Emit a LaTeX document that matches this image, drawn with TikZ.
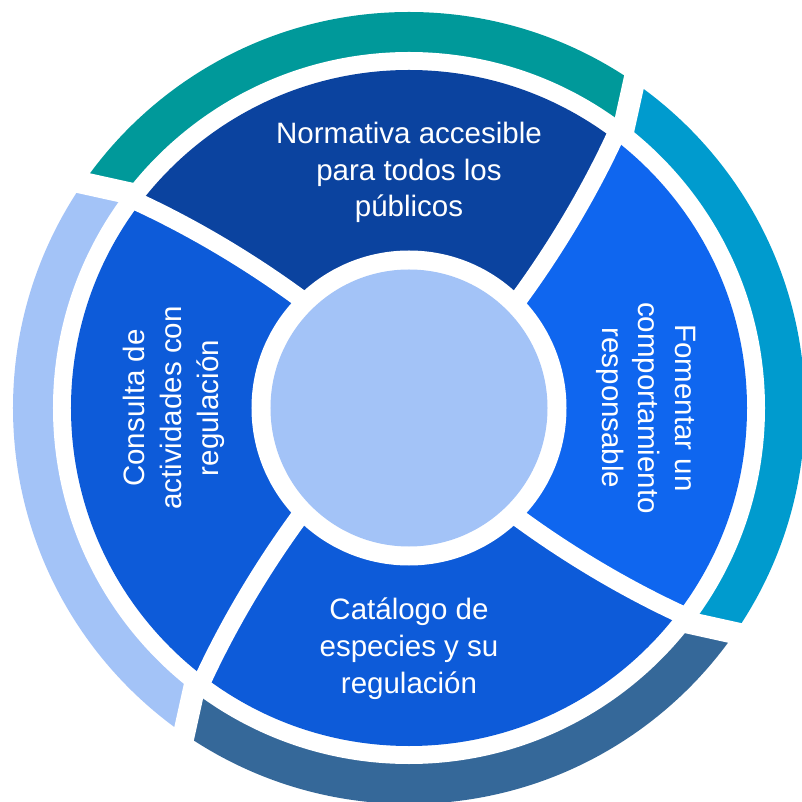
\documentclass[tikz,border=0pt]{standalone}
\usepackage{fontspec}
\setmainfont{Liberation Sans}
\definecolor{topc}{HTML}{0B439F}
\definecolor{rightc}{HTML}{0F66EF}
\definecolor{botc}{HTML}{0D5BD9}
\definecolor{leftc}{HTML}{0D5BD9}
\definecolor{innerc}{HTML}{A3C3F7}
\definecolor{tealc}{HTML}{00999A}
\definecolor{cyanc}{HTML}{009BCE}
\definecolor{steelc}{HTML}{356899}
\definecolor{lightc}{HTML}{A3C3F7}
\tikzset{
  lbl/.style={text=white, align=center, inner sep=0pt, font=\fontsize{29.5}{36.7}\selectfont},
}
\begin{document}
\begin{tikzpicture}
\useasboundingbox (-409pt,-394pt) rectangle (392pt,408pt);
% outer arcs
\begin{scope}
\clip (0,0) circle (396pt);
\foreach \a/\c in {0/tealc,90/lightc,180/steelc,270/cyanc}{
  \fill[\c] (0,0) -- (52.22+\a:349.2pt) -- (55.81+\a:403.4pt)
    arc[start angle=55.81+\a, end angle=145.81+\a, radius=403.4pt]
    -- (142.22+\a:349.2pt) -- cycle;
}
\end{scope}
\foreach \a in {0,90,180,270}{
  \draw[white, line width=22pt] (52.22+\a:349.2pt) -- (55.81+\a:403.4pt);
}
\fill[white] (0,0) circle (356pt);
% sectors
\begin{scope}
\clip (0,0) circle (338pt);
\foreach \a/\c in {0/topc,90/leftc,180/botc,270/rightc}{
  \fill[\c] (0,0) -- (44.39+\a:148.1pt) -- (45+\a:158pt)
    .. controls (47.47+\a:217.47pt) and (50.09+\a:279.67pt) .. (52.7+\a:338pt)
    -- (53.13+\a:349.75pt)
    arc[start angle=53.13+\a, end angle=143.13+\a, radius=349.75pt]
    -- (142.7+\a:338pt)
    .. controls (140.09+\a:279.67pt) and (137.47+\a:217.47pt) .. (135+\a:158pt)
    -- (134.39+\a:148.1pt) -- cycle;
}
\end{scope}
\foreach \a in {0,90,180,270}{
  \draw[white, line width=18pt] (44.39+\a:148.1pt) -- (45+\a:158pt)
    .. controls (47.47+\a:217.47pt) and (50.09+\a:279.67pt) .. (52.7+\a:338pt)
    -- (53.13+\a:349.75pt);
}
\fill[white] (0,0) circle (157.5pt);
\fill[innerc] (0,0) circle (138.5pt);
% labels
\node[lbl] (t1) at (90:235.5pt) {Normativa accesible\\para todos los\\públicos};
\node[lbl, rotate=-90] (t2) at (0:237pt) {Fomentar un\\comportamiento\\responsable};
\node[lbl] (t3) at (270:240.5pt) {Catálogo de\\especies y su\\regulación};
\node[lbl, rotate=90] (t4) at (180:235pt) {Consulta de\\actividades con\\regulación};
\end{tikzpicture}
\end{document}
